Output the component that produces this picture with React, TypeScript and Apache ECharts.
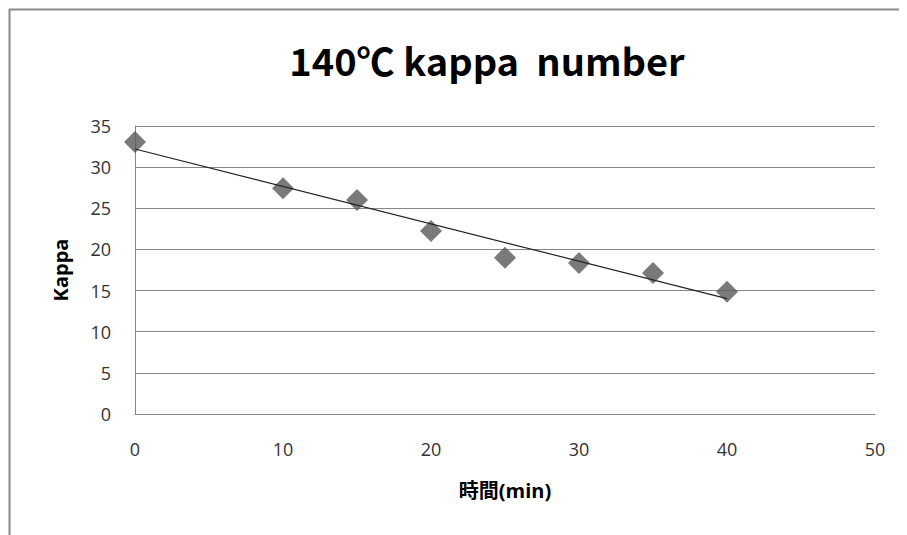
import React, { useEffect, useRef } from "react";
import * as echarts from "echarts";

const titleText = "140℃ kappa  number";
const xName = "時間(min)";
const yName = "Kappa";
const timeMin = [0, 10, 15, 20, 25, 30, 35, 40];
const kappa = [33.05, 27.45, 26.0, 22.25, 19.0, 18.35, 17.15, 14.85];

function regression(xs: number[], ys: number[]) {
  const n = xs.length;
  const mx = xs.reduce((a, b) => a + b, 0) / n;
  const my = ys.reduce((a, b) => a + b, 0) / n;
  let sxy = 0, sxx = 0;
  for (let i = 0; i < n; i++) {
    sxy += (xs[i] - mx) * (ys[i] - my);
    sxx += (xs[i] - mx) * (xs[i] - mx);
  }
  const slope = sxy / sxx;
  return { slope, intercept: my - slope * mx };
}

export default function App() {
  const ref = useRef<HTMLDivElement>(null);
  useEffect(() => {
    if (!ref.current) return;
    const chart = echarts.init(ref.current, undefined, { renderer: "svg" });
    const { slope, intercept } = regression(timeMin, kappa);
    const x0 = Math.min(...timeMin);
    const x1 = Math.max(...timeMin);
    const font = "'Open Sans', 'Noto Sans CJK JP', sans-serif";
    chart.setOption({
      animation: false,
      backgroundColor: "#ffffff",
      title: {
        text: titleText,
        left: 482,
        top: 35,
        textAlign: "center",
        textStyle: { fontFamily: "'Noto Sans CJK JP', sans-serif", fontSize: 38, fontWeight: "bold", color: "#000" },
      },
      graphic: [
        { type: "line", shape: { x1: 9, y1: 9.5, x2: 907, y2: 9.5 }, style: { stroke: "#8a8a8a", lineWidth: 2 } },
        { type: "line", shape: { x1: 9.5, y1: 9, x2: 9.5, y2: 535 }, style: { stroke: "#8a8a8a", lineWidth: 2 } },
      ],
      grid: { left: 135, right: 32, top: 126, bottom: 121 },
      xAxis: {
        type: "value",
        min: 0,
        max: 50,
        interval: 10,
        name: xName,
        nameLocation: "middle",
        nameGap: 66,
        nameTextStyle: { fontFamily: font, fontSize: 20, fontWeight: "bold", color: "#000" },
        axisLine: { show: true, lineStyle: { color: "#868686", width: 1 } },
        axisTick: { show: false },
        splitLine: { show: false },
        axisLabel: { fontFamily: font, fontSize: 18, color: "#333", margin: 26 },
      },
      yAxis: {
        type: "value",
        min: 0,
        max: 35,
        interval: 5,
        name: yName,
        nameLocation: "middle",
        nameGap: 65,
        nameTextStyle: { fontFamily: font, fontSize: 20, fontWeight: "bold", color: "#000" },
        axisLine: { show: true, lineStyle: { color: "#868686", width: 1 } },
        axisTick: { show: false },
        splitLine: { show: true, lineStyle: { color: "#868686", width: 1 } },
        axisLabel: { fontFamily: font, fontSize: 18, color: "#333", margin: 24 },
      },
      series: [
        {
          type: "line",
          data: [
            [x0, intercept + slope * x0],
            [x1, intercept + slope * x1],
          ],
          showSymbol: false,
          symbol: "none",
          lineStyle: { color: "#222", width: 1.2 },
          z: 3,
        },
        {
          type: "scatter",
          data: timeMin.map((t, i) => [t, kappa[i]]),
          symbol: "diamond",
          symbolSize: [22, 22],
          itemStyle: { color: "#595959" },
          z: 2,
        },
      ],
    });
    return () => chart.dispose();
  }, []);
  return <div ref={ref} style={{ width: 907, height: 535, marginLeft: -8, marginTop: -8 }} />;
}
